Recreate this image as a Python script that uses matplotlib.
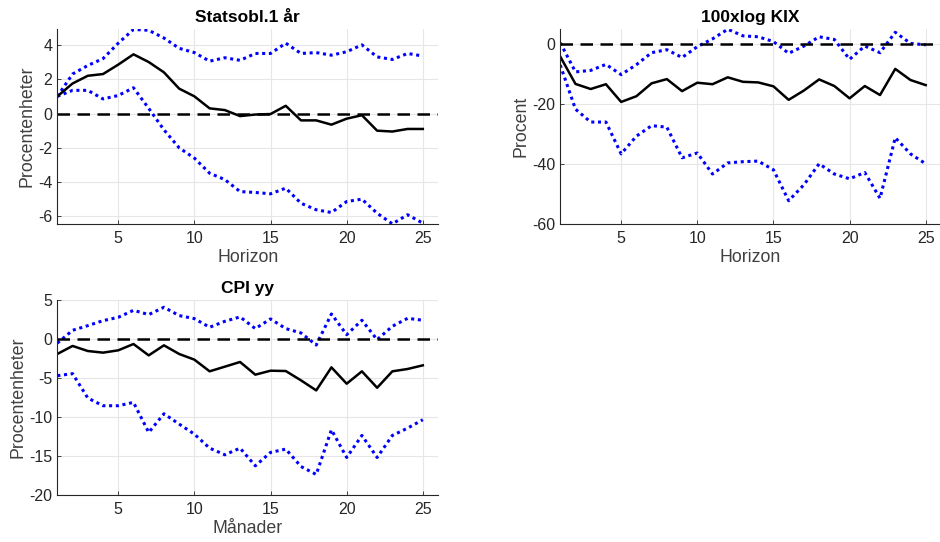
import numpy as np
from matplotlib import pyplot as plt

# horizon 1..25
horizon = np.arange(1, 26)

# Statsobl.1 år
stat_mid = [1.0, 1.75, 2.2, 2.3, 2.85, 3.45, 3.0, 2.4, 1.45, 1.0, 0.3, 0.2, -0.15,
            -0.06, -0.03, 0.45, -0.4, -0.4, -0.65, -0.3, -0.1, -1.0, -1.05, -0.9, -0.9]
stat_hi = [1.0, 2.3, 2.8, 3.2, 4.1, 4.9, 4.85, 4.4, 3.8, 3.55, 3.05, 3.25, 3.1,
           3.5, 3.5, 4.1, 3.5, 3.55, 3.4, 3.6, 4.0, 3.3, 3.15, 3.5, 3.35]
stat_lo = [1.0, 1.35, 1.35, 0.85, 1.05, 1.5, 0.3, -0.95, -2.0, -2.6, -3.48, -3.85, -4.55,
           -4.6, -4.68, -4.35, -5.23, -5.61, -5.77, -5.13, -4.99, -5.81, -6.43, -5.9, -6.39]

# 100xlog KIX
kix_mid = [-4.3, -13.4, -15.1, -13.5, -19.4, -17.5, -13.2, -11.8, -15.8, -13.0, -13.5, -11.2, -12.7,
           -12.9, -14.2, -18.7, -15.6, -11.9, -14.1, -18.2, -14.1, -17.1, -8.4, -12.1, -13.8]
kix_hi = [0.3, -9.4, -8.9, -6.9, -10.3, -7.0, -3.0, -2.0, -4.6, -1.0, 1.6, 4.8, 2.6,
          2.3, 0.7, -3.2, -0.8, 2.3, 1.4, -5.2, -0.8, -3.0, 3.8, 0.1, -0.4]
kix_lo = [-7.1, -21.8, -26.1, -26.1, -36.7, -30.8, -27.3, -27.8, -38.0, -36.4, -43.4, -39.7, -39.3,
          -39.1, -42.0, -52.3, -47.0, -40.0, -43.4, -45.0, -42.9, -51.5, -31.3, -36.7, -40.0]

# CPI yy
cpi_mid = [-1.9, -0.87, -1.52, -1.73, -1.43, -0.62, -2.08, -0.79, -1.9, -2.63, -4.13, -3.53, -2.93,
           -4.56, -4.05, -4.09, -5.29, -6.58, -3.62, -5.72, -4.13, -6.24, -4.13, -3.83, -3.36]
cpi_hi = [-0.5, 1.14, 1.74, 2.38, 2.81, 3.71, 3.16, 4.1, 3.03, 2.64, 1.53, 2.3, 2.86,
          1.36, 2.6, 1.36, 0.8, -0.75, 3.24, 0.58, 2.43, -0.06, 1.66, 2.68, 2.43]
cpi_lo = [-4.69, -4.43, -7.56, -8.55, -8.55, -8.12, -11.98, -9.58, -10.91, -12.2, -14.0, -14.85, -14.0,
          -16.27, -14.55, -14.12, -16.36, -17.38, -11.64, -15.2, -12.37, -15.2, -12.37, -11.43, -10.35]

plt.rcParams['font.family'] = ['Liberation Sans', 'DejaVu Sans']


def panel(ax, mid, hi, lo, title, xlabel, ylabel, ylim, yticks):
    ax.plot(horizon, hi, c='#0000ff', ls=(0, (1, 1.2)), lw=2.2)
    ax.plot(horizon, lo, c='#0000ff', ls=(0, (1, 1.2)), lw=2.2)
    ax.plot(horizon, mid, c='k', lw=1.8)
    ax.axhline(0, c='k', ls=(0, (5, 3)), lw=1.8)
    ax.set_xlim(1, 26)
    ax.set_ylim(*ylim)
    ax.set_xticks([5, 10, 15, 20, 25])
    ax.set_yticks(yticks)
    ax.set_yticklabels([str(t) for t in yticks])
    ax.set_title(title, fontsize=12.5, fontweight='bold', pad=5)
    ax.set_xlabel(xlabel, fontsize=12.8, color='#404040', labelpad=2)
    ax.set_ylabel(ylabel, fontsize=12.8, color='#404040', labelpad=2)
    ax.grid(True, color='#e6e6e6', lw=0.8)
    ax.set_axisbelow(True)
    for s in ['top', 'right']:
        ax.spines[s].set_visible(False)
    for s in ['left', 'bottom']:
        ax.spines[s].set_color('#262626')
        ax.spines[s].set_linewidth(0.8)
    ax.tick_params(direction='in', length=3, width=0.6, labelsize=11.5,
                   colors='#262626')
    ax.tick_params(axis='x', pad=5)
    ax.tick_params(axis='y', pad=3.5)


fig = plt.figure(figsize=(9.4, 5.42), dpi=100)
ax1 = fig.add_axes([0.061, 0.587, 0.405, 0.359])
ax2 = fig.add_axes([0.596, 0.587, 0.405, 0.359])
ax3 = fig.add_axes([0.061, 0.087, 0.405, 0.359])

panel(ax1, stat_mid, stat_hi, stat_lo, 'Statsobl.1 år', 'Horizon', 'Procentenheter',
      (-6.43, 4.91), [-6, -4, -2, 0, 2, 4])
panel(ax2, kix_mid, kix_hi, kix_lo, '100xlog KIX', 'Horizon', 'Procent',
      (-60, 4.8), [-60, -40, -20, 0])
panel(ax3, cpi_mid, cpi_hi, cpi_lo, 'CPI yy', 'Månader', 'Procentenheter',
      (-20, 5), [-20, -15, -10, -5, 0, 5])

fig.savefig('out.png', dpi=100)
